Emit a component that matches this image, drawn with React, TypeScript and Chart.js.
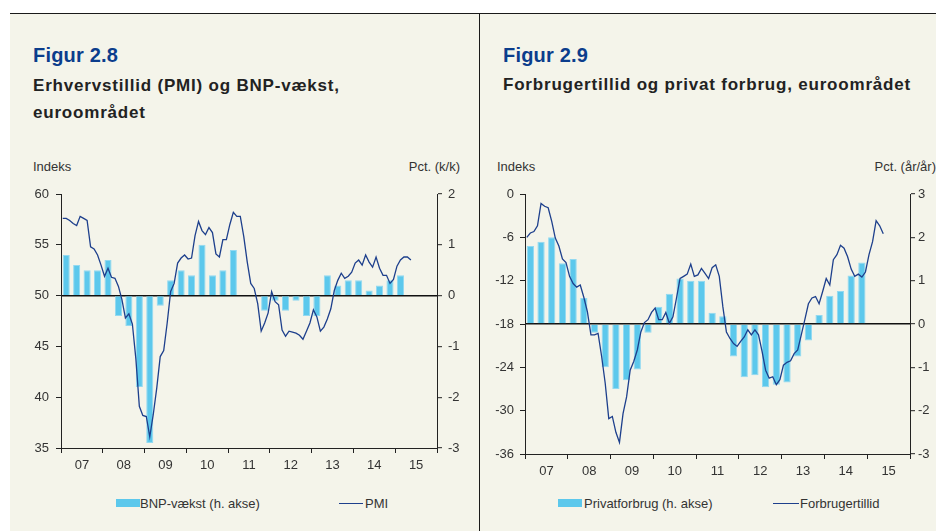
import React, { useEffect, useRef } from 'react';
import { Chart, registerables } from 'chart.js';

Chart.register(...registerables);

const FONT = '"Liberation Sans", Arial, Helvetica, sans-serif';
const FIRST_YEAR = 2007;
const LAST_YEAR = 2016;
const yearLabels = ['07', '08', '09', '10', '11', '12', '13', '14', '15'];

// Figur 2.8 – PMI (monthly, Jan 2007 – May 2015)
const pmi = [
  57.6, 57.6, 57.4, 57.1, 56.9, 57.8, 57.6, 57.4, 54.8, 54.6, 54.0, 53.0,
  51.9, 52.7, 51.8, 51.7, 50.9, 49.6, 47.8, 48.2, 47.2, 43.8, 39.1, 38.2,
  38.1, 36.1, 38.3, 40.9, 44.0, 44.6, 47.3, 50.4, 51.2, 53.2, 53.7, 54.0,
  53.6, 53.7, 55.9, 57.3, 56.4, 56.0, 56.7, 56.2, 54.1, 53.8, 55.5, 55.5,
  57.0, 58.2, 57.8, 57.8, 55.8, 53.3, 51.2, 50.7, 49.2, 46.5, 47.3, 48.3,
  50.4, 49.4, 49.1, 46.6, 46.0, 46.5, 46.4, 46.3, 46.1, 45.7, 46.5, 47.3,
  48.6, 47.9, 46.5, 46.9, 47.7, 48.7, 50.5, 51.5, 52.2, 51.7, 51.9, 52.3,
  53.2, 53.5, 53.0, 54.0, 53.3, 52.8, 53.8, 52.7, 52.0, 52.0, 51.2, 51.6,
  52.9, 53.5, 53.8, 53.8, 53.5,
];
// Figur 2.8 – BNP-vækst (quarterly, 2007Q1 – 2015Q1), pct. k/k
const gdpGrowth = [
  0.8, 0.6, 0.5, 0.5,
  0.7, -0.4, -0.6, -1.8,
  -2.9, -0.2, 0.3, 0.5,
  0.4, 1.0, 0.4, 0.5,
  0.9, 0, 0, -0.3,
  -0.1, -0.3, -0.1, -0.4,
  -0.4, 0.4, 0.2, 0.3,
  0.3, 0.1, 0.2, 0.3,
  0.4,
];
// Figur 2.9 – Forbrugertillid (monthly, Jan 2007 – May 2015)
const consumerConfidence = [
  -6.0, -5.4, -5.2, -4.4, -1.3, -1.7, -1.9, -3.8, -6.1, -7.2, -9.0, -9.5,
  -11.4, -12.4, -12.9, -12.6, -14.3, -16.3, -19.5, -19.5, -19.3, -22.5, -26.2, -31.1,
  -30.8, -33.0, -34.4, -30.4, -28.1, -24.4, -23.2, -21.6, -19.1, -17.8, -17.4, -16.4,
  -15.8, -17.4, -17.4, -16.4, -17.9, -17.0, -14.4, -11.7, -11.4, -11.1, -9.7, -11.4,
  -11.2, -10.3, -11.0, -11.7, -10.2, -9.8, -11.4, -15.6, -19.1, -20.0, -20.7, -21.1,
  -20.4, -19.8, -18.8, -19.5, -18.8, -19.5, -21.8, -24.4, -25.5, -25.3, -26.4, -25.7,
  -23.7, -23.3, -23.1, -22.1, -21.6, -19.5, -17.4, -15.2, -14.4, -14.2, -15.2, -13.5,
  -11.7, -12.6, -9.1, -8.4, -7.1, -7.5, -8.7, -10.4, -11.4, -11.1, -11.5, -10.8,
  -8.4, -6.6, -3.7, -4.4, -5.5,
];
// Figur 2.9 – Privatforbrug (quarterly, 2007Q1 – 2014Q4), pct. år/år
const privateConsumption = [
  1.8, 1.9, 2.0, 1.4,
  1.5, 0.6, -0.2, -1.0,
  -1.5, -1.3, -1.05, -0.2,
  0.4, 0.7, 1.05, 1.0,
  1.0, 0.26, 0.18, -0.75,
  -1.23, -1.18, -1.46, -1.4,
  -1.35, -0.75, -0.38, 0.21,
  0.65, 0.76, 1.12, 1.42,
];

const NAVY = '#1d3f8c';
const CYAN = '#5cc8ec';
const CYAN_EDGE = '#92d9f1';
const AXIS = '#222222';
const TEXT = '#333333';
const BG = '#f4f4ea';

type ChartSpec = {
  line: number[];
  bars: number[];
  lineLabel: string;
  barLabel: string;
  yMin: number; yMax: number; yStep: number;
  y1Min: number; y1Max: number; y1Step: number;
  yWidth: number; y1Width: number; xHeight: number; top: number;
  labelOffset: number; yPad: number; y1Pad: number; xPad: number;
};

function buildChart(canvas: HTMLCanvasElement, s: ChartSpec) {
  const monthly = s.line.map((v, i) => ({ x: FIRST_YEAR + (i + 0.5) / 12, y: v }));
  const quarterly = s.bars.map((v, i) => ({ x: FIRST_YEAR + (i + 0.5) / 4, y: v }));
  const tickFont = { family: FONT, size: 13 };
  return new Chart(canvas, {
    type: 'bar',
    data: {
      datasets: [
        {
          type: 'line',
          label: s.lineLabel,
          data: monthly,
          yAxisID: 'y',
          borderColor: NAVY,
          borderWidth: 1.3,
          pointRadius: 0,
          tension: 0,
          fill: false,
          order: 0,
        } as any,
        {
          type: 'bar',
          label: s.barLabel,
          data: quarterly,
          yAxisID: 'y1',
          backgroundColor: CYAN,
          borderColor: CYAN_EDGE,
          borderWidth: 1,
          barPercentage: 0.68,
          categoryPercentage: 1,
          order: 1,
        } as any,
      ],
    },
    options: {
      responsive: false,
      maintainAspectRatio: false,
      animation: false,
      events: [],
      layout: { padding: { top: s.top, left: 0, right: 0, bottom: 0 } },
      plugins: { legend: { display: false }, tooltip: { enabled: false }, title: { display: false } },
      scales: {
        x: {
          type: 'linear',
          min: FIRST_YEAR,
          max: LAST_YEAR,
          offset: false,
          grid: { offset: false, drawOnChartArea: false, tickLength: 5, tickColor: AXIS, tickWidth: 1 },
          border: { display: true, color: AXIS, width: 1 },
          ticks: {
            stepSize: 1,
            autoSkip: false,
            maxRotation: 0,
            minRotation: 0,
            labelOffset: s.labelOffset,
            padding: s.xPad,
            color: TEXT,
            font: tickFont,
            callback: (v: any) => yearLabels[Math.round(v) - FIRST_YEAR] ?? '',
          },
          afterFit: (a: any) => { a.height = s.xHeight; },
        } as any,
        y: {
          type: 'linear',
          position: 'left',
          min: s.yMin,
          max: s.yMax,
          grid: { drawOnChartArea: false, tickLength: 5, tickColor: AXIS, tickWidth: 1 },
          border: { display: true, color: AXIS, width: 1 },
          ticks: { stepSize: s.yStep, padding: s.yPad, color: TEXT, font: tickFont },
          afterFit: (a: any) => { a.width = s.yWidth; },
        } as any,
        y1: {
          type: 'linear',
          position: 'right',
          min: s.y1Min,
          max: s.y1Max,
          grid: {
            drawOnChartArea: true,
            color: (ctx: any) => (ctx.tick && ctx.tick.value === 0 ? '#111111' : 'rgba(0,0,0,0)'),
            lineWidth: 1.4,
            tickLength: 5,
            tickColor: AXIS,
            tickWidth: 1,
          },
          border: { display: true, color: AXIS, width: 1 },
          ticks: { stepSize: s.y1Step, padding: s.y1Pad, color: TEXT, font: tickFont },
          afterFit: (a: any) => { a.width = s.y1Width; },
        } as any,
      },
    },
  });
}

const abs = (style: React.CSSProperties): React.CSSProperties => ({ position: 'absolute', ...style });

function Txt(props: { x?: number; right?: number; baseline: number; size: number; bold?: boolean; color?: string; spacing?: number; children: React.ReactNode }) {
  const { x, right, baseline, size, bold, color, spacing, children } = props;
  const top = baseline - 0.8465 * size;
  const st: React.CSSProperties = {
    position: 'absolute',
    top,
    fontFamily: FONT,
    fontSize: size,
    lineHeight: `${size}px`,
    fontWeight: bold ? 700 : 400,
    color: color || TEXT,
    whiteSpace: 'nowrap',
    letterSpacing: spacing ? `${spacing}px` : undefined,
  };
  if (right !== undefined) st.right = 936 - right;
  else st.left = x;
  return <div style={st}>{children}</div>;
}

export default function App() {
  const leftRef = useRef<HTMLCanvasElement>(null);
  const rightRef = useRef<HTMLCanvasElement>(null);

  useEffect(() => {
    const c1 = buildChart(leftRef.current!, {
      line: pmi, bars: gdpGrowth, lineLabel: 'PMI', barLabel: 'BNP-vækst (h. akse)',
      yMin: 35, yMax: 60, yStep: 5, y1Min: -3, y1Max: 2, y1Step: 1,
      yWidth: 51, y1Width: 43, xHeight: 32, top: 54,
      labelOffset: 20.9, yPad: 7, y1Pad: 6, xPad: 5,
    });
    const c2 = buildChart(rightRef.current!, {
      line: consumerConfidence, bars: privateConsumption, lineLabel: 'Forbrugertillid', barLabel: 'Privatforbrug (h. akse)',
      yMin: -36, yMax: 0, yStep: 6, y1Min: -3, y1Max: 3, y1Step: 1,
      yWidth: 45, y1Width: 26, xHeight: 26, top: 54,
      labelOffset: 21.4, yPad: 6, y1Pad: 3, xPad: 5,
    });
    return () => { c1.destroy(); c2.destroy(); };
  }, []);

  return (
    <div style={abs({ left: 0, top: 0, width: 936, height: 531, background: '#ffffff', overflow: 'hidden' })}>
      <div style={abs({ left: 10, top: 14, width: 926, height: 517, background: BG })} />
      <div style={abs({ left: 10, top: 12.5, width: 926, height: 1.5, background: '#1a1a1a' })} />
      <div style={abs({ left: 479, top: 13, width: 1.2, height: 518, background: '#1a1a1a' })} />

      {/* Left panel text */}
      <Txt x={33} baseline={62} size={20} bold color="#0b3d8c" spacing={0.2}>Figur 2.8</Txt>
      <Txt x={33} baseline={91.7} size={17} bold color="#222222" spacing={0.8}>Erhvervstillid (PMI) og BNP-vækst,</Txt>
      <Txt x={33} baseline={118.7} size={17} bold color="#222222" spacing={0.8}>euroområdet</Txt>
      <Txt x={33} baseline={170.6} size={13}>Indeks</Txt>
      <Txt right={460} baseline={170.6} size={13}>Pct. (k/k)</Txt>

      {/* Right panel text */}
      <Txt x={503} baseline={62} size={20} bold color="#0b3d8c" spacing={0.2}>Figur 2.9</Txt>
      <Txt x={503} baseline={90.7} size={17} bold color="#222222" spacing={0.8}>Forbrugertillid og privat forbrug, euroområdet</Txt>
      <Txt x={497} baseline={170.6} size={13}>Indeks</Txt>
      <Txt right={936} baseline={170.6} size={13}>Pct. (år/år)</Txt>

      <canvas ref={leftRef} width={470} height={340} style={abs({ left: 10, top: 140, width: 470, height: 340 })} />
      <canvas ref={rightRef} width={456} height={340} style={abs({ left: 480, top: 140, width: 456, height: 340 })} />

      {/* Legends */}
      <div style={abs({ left: 116, top: 499, width: 24, height: 8, background: CYAN })} />
      <Txt x={140} baseline={508.2} size={13}>BNP-vækst (h. akse)</Txt>
      <div style={abs({ left: 339, top: 502.8, width: 24, height: 1.4, background: NAVY })} />
      <Txt x={365} baseline={508.2} size={13}>PMI</Txt>

      <div style={abs({ left: 558, top: 499, width: 24, height: 8, background: CYAN })} />
      <Txt x={584} baseline={508.2} size={13}>Privatforbrug (h. akse)</Txt>
      <div style={abs({ left: 773, top: 502.8, width: 26, height: 1.4, background: NAVY })} />
      <Txt x={800} baseline={508.2} size={13}>Forbrugertillid</Txt>
    </div>
  );
}
